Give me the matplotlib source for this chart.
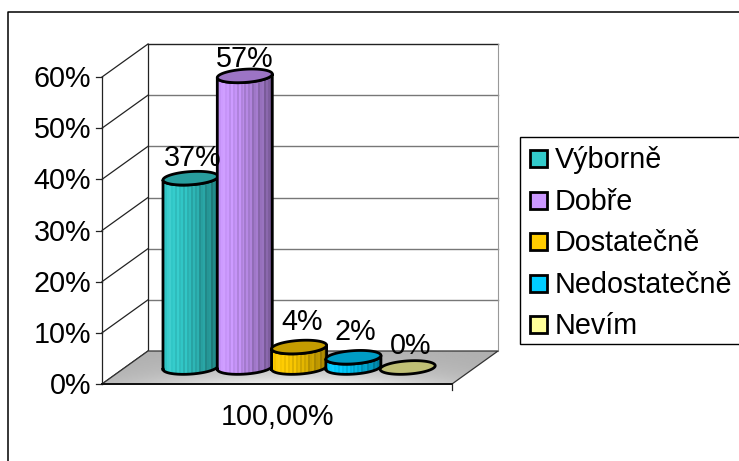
import numpy as np
import matplotlib
matplotlib.use('Agg')
import matplotlib.pyplot as plt
from matplotlib.colors import LinearSegmentedColormap
from matplotlib.patches import Polygon, Rectangle

plt.rcParams['font.family'] = ['Liberation Sans', 'DejaVu Sans']

categories = ['Výborně', 'Dobře', 'Dostatečně', 'Nedostatečně', 'Nevím']
values = [37, 57, 4, 2, 0]
value_labels = ['37%', '57%', '4%', '2%', '0%']
y_ticks = [0, 10, 20, 30, 40, 50, 60]
x_label = '100,00%'
body_colors = ['#33CCCC', '#CC99FF', '#FFCC00', '#00CCFF', '#FFFF99']
top_colors = ['#289E9E', '#9C74C4', '#C49C00', '#009CC4', '#BFBF75']

W, H = 739, 461
FONT = 20.7

fig = plt.figure(figsize=(W / 100, H / 100), dpi=100)

# overlay in pixels for the chart frame and the legend box
bg = fig.add_axes([0, 0, 1, 1])
bg.set_xlim(0, W)
bg.set_ylim(H, 0)
bg.axis('off')
bg.plot([8, 8, W + 5], [H + 5, 12.5, 12.5], color='black', lw=1.1)
bg.add_patch(Rectangle((520, 137), 230, 207, fc='white', ec='black', lw=1))

# front plane of the plot: x in pixels from the axis, y in percent
x0, x1 = 102, 452
y0, y60 = 384, 77
ax = fig.add_axes([x0 / W, 1 - y0 / H, (x1 - x0) / W, (y0 - y60) / H])
ax.set_xlim(0, x1 - x0)
ax.set_ylim(0, 60)
ax.axis('off')

px_pct = (y0 - y60) / 60.0
depth_x = 46
depth_y = 33 / px_pct

# back wall and gridlines
for t in y_ticks:
    ax.plot([0, depth_x], [t, t + depth_y], color='#222222', lw=0.9, clip_on=False, zorder=1)
    ax.plot([0, -6], [t, t], color='#222222', lw=0.9, clip_on=False, zorder=1)
    if t > 0:
        ax.plot([depth_x, depth_x + x1 - x0], [t + depth_y, t + depth_y],
                color='#222222' if t == 60 else '#777777', lw=1.0, clip_on=False, zorder=1)
    ax.text(-11, t - 2 / px_pct, f'{t}%', ha='right', va='center', fontsize=FONT, clip_on=False)
ax.plot([0, 0], [0, 60], color='#222222', lw=0.9, clip_on=False, zorder=1)
ax.plot([depth_x, depth_x], [depth_y, 60 + depth_y], color='#222222', lw=0.9, clip_on=False, zorder=1)
ax.plot([x1 - x0 + depth_x] * 2, [depth_y, 60 + depth_y], color='#999999', lw=0.8, clip_on=False, zorder=1)

# floor with a soft grey gradient
floor_pts = [(0, 0), (depth_x, depth_y), (x1 - x0 + depth_x, depth_y), (x1 - x0, 0)]
floor = Polygon(floor_pts, closed=True, fc='none', ec='none', transform=ax.transData)
ax.add_patch(floor)
xx = np.linspace(-1, 1, 200)
yy = np.linspace(0, 1, 60)
gx, gy = np.meshgrid(xx, yy)
shade = 0.68 + 0.27 * np.exp(-(gx ** 2) * 1.6) * np.exp(-gy * 2.2)
floor_im = ax.imshow(shade, cmap='gray', vmin=0, vmax=1, aspect='auto', origin='lower',
                     extent=[0, x1 - x0 + depth_x, 0, depth_y], zorder=1.5)
floor_im.set_clip_box(fig.bbox)
floor_im.set_clip_path(floor)
ax.plot([p[0] for p in floor_pts] + [0], [p[1] for p in floor_pts] + [0],
        color='#333333', lw=0.9, clip_on=False, zorder=1.6)
ax.plot([0, x1 - x0], [0, 0], color='#111111', lw=1.4, clip_on=False, zorder=1.7)
ax.plot([x1 - x0, x1 - x0], [0, -6 / px_pct], color='#222222', lw=0.9, clip_on=False, zorder=1.7)

ax.text((x1 - x0) / 2, -33 / px_pct, x_label, ha='center', va='center', fontsize=FONT, clip_on=False)

# cylinders
step = 54.3
half = 27.5
rx = half
ry = 6.6 / px_pct
tilt = 3.0 / px_pct
base = 16.5 / px_pct
first = 88.5
theta = np.linspace(0, 2 * np.pi, 121)


def ellipse_xy(cx, cy):
    return cx + rx * np.cos(theta), cy + ry * np.sin(theta) + tilt * np.cos(theta) * 0.6


# lighter and darker bands across the body of each cylinder
stripe = np.array([0, .03, -.04, -.08, 0, -.05, .02, -.08, 0, -.06, .03, -.09, 0, -.07, .03, -.08,
                   0, -.08, .05, -.04, -.09, .04, -.05, -.09, .05, -.06, -.02, .04])

for i, (val, col, top) in enumerate(zip(values, body_colors, top_colors)):
    cx = first + i * step
    cy_top = base + val
    ex, ey = ellipse_xy(cx, cy_top)
    z = 3 + i
    if val > 0:
        lower = theta[theta >= np.pi]
        xb = cx + rx * np.cos(lower)
        yb = base + ry * np.sin(lower) + tilt * np.cos(lower) * 0.6
        xt = cx + rx * np.cos(lower[::-1])
        yt = cy_top + ry * np.sin(lower[::-1]) + tilt * np.cos(lower[::-1]) * 0.6
        outline = np.column_stack([np.r_[xb, xt], np.r_[yb, yt]])
        body = Polygon(outline, closed=True, fc='none', ec='none', zorder=z)
        ax.add_patch(body)
        cmap = LinearSegmentedColormap.from_list('body', ['#FFFFFF', col, '#000000'])
        u = np.linspace(0, 1, stripe.size)
        strip = 0.5 + 0.42 * u ** 1.4 * 0.5 + stripe * 0.5
        im = ax.imshow(np.clip(strip, 0, 1)[None, :], cmap=cmap, vmin=0, vmax=1, aspect='auto',
                       extent=[cx - rx, cx + rx, base - ry - tilt, cy_top + ry + tilt],
                       zorder=z, interpolation='nearest')
        im.set_clip_path(body)
        ax.plot(np.r_[outline[:, 0], outline[0, 0]], np.r_[outline[:, 1], outline[0, 1]],
                color='black', lw=2, clip_on=False, zorder=z + 0.1, solid_joinstyle='round')
    ax.add_patch(Polygon(np.column_stack([ex, ey]), closed=True, fc=top, ec='black', lw=2,
                         clip_on=False, zorder=z + 0.2))

# value labels sit above the cylinder tops
label_dx = [2, 0, 3, 2, 3]
label_dy = [-6, -9, -1, -1, -5]
for i, (val, text) in enumerate(zip(values, value_labels)):
    cx = first + i * step
    ax.text(cx + label_dx[i], base + val + ry + 1.1 + label_dy[i] / px_pct, text,
            ha='center', va='bottom', fontsize=FONT, clip_on=False, zorder=20)

# legend
for i, (name, col) in enumerate(zip(categories, body_colors)):
    ly = 158.5 + i * 41.5
    bg.add_patch(Rectangle((530, ly - 8.5), 17, 17, fc=col, ec='black', lw=2))
    bg.text(555, ly + 1.5, name, ha='left', va='center', fontsize=FONT)

ax.set_zorder(2)
fig.savefig('out.png', dpi=100)
